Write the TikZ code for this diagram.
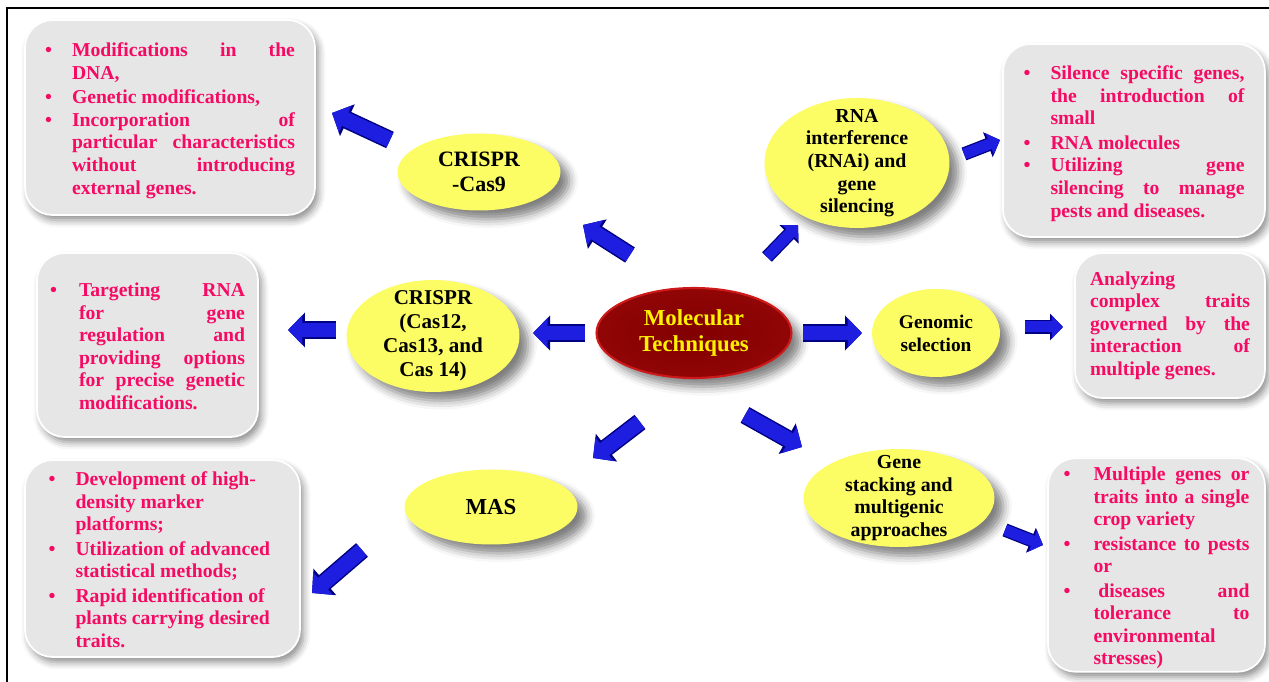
\documentclass[tikz,border=0pt]{standalone}
\usepackage{fontspec}
\setmainfont{Liberation Serif}
\usetikzlibrary{
  shapes.geometric,
  arrows.meta,
  shadows.blur}
\definecolor{boxgray}{RGB}{230,230,230}
\definecolor{notepink}{RGB}{245,10,100}
\definecolor{ellyellow}{RGB}{252,252,100}
\definecolor{molred}{RGB}{130,0,0}
\definecolor{molrim}{RGB}{205,25,25}
\definecolor{flowblue}{RGB}{30,30,225}
\definecolor{flowdark}{RGB}{0,0,130}
\tolerance=10000
\hbadness=10000
\hyphenpenalty=10000
\lineskip=0pt
\newcommand{\bulitem}[2][0.54cm]{\par\noindent\strut\makebox[#1][l]{\textbullet}\parbox[t]{\dimexpr\hsize-#1\relax}{\strut#2\strut}}

\begin{document}
\begin{tikzpicture}[
      x=0.02cm, y=-0.02cm,
      notebox/.style={
        rectangle,
        rounded corners=0.55cm,
        fill=boxgray,
        draw=white,
        line width=1pt,
        blur shadow={shadow xshift=2pt, shadow yshift=-3pt, shadow blur radius=4pt, shadow opacity=45},
        inner sep=0pt,
        align=justify,
        text=notepink,
        font=\fontsize{11.2}{12.85}\selectfont\bfseries,
      },
      technique/.style={
        ellipse,
        fill=ellyellow,
        inner sep=0pt,
        blur shadow={shadow xshift=5pt, shadow yshift=-5pt, shadow blur radius=5pt, shadow opacity=50},
      },
      technique-text/.style={
        align=center,
        inner sep=0pt,
        font=\fontsize{11.3}{12.9}\selectfont\bfseries,
      },
      core/.style={
        ellipse,
        inner color=molred,
        outer color=molred!80!molrim,
        draw=molrim,
        line width=1.2pt,
        inner sep=0pt,
        blur shadow={shadow xshift=5pt, shadow yshift=-5pt, shadow blur radius=5pt, shadow opacity=50},
      },
      flow/.style={
        line width=0.3cm,
        draw=flowblue,
        -{Triangle[width=0.58cm,length=0.29cm]},
        preaction={draw=flowdark, line width=0.36cm, -{Triangle[width=0.68cm,length=0.34cm]}},
      },
      small-flow/.style={
        line width=0.22cm,
        draw=flowblue,
        -{Triangle[width=0.44cm,length=0.22cm]},
        preaction={draw=flowdark, line width=0.27cm, -{Triangle[width=0.52cm,length=0.26cm]}},
      },
    ]
    \useasboundingbox (0,0) rectangle (1269,682);
    \draw[line width=0.9pt] (7,682) -- (7,8) -- (1269,8);

    \coordinate (molecular) at (694,333);
    \coordinate (crispr9) at (479,172);
    \coordinate (crispr12) at (433,336);
    \coordinate (rnai) at (857,163);
    \coordinate (genomic) at (936,333);
    \coordinate (mas) at (491,507);
    \coordinate (stacking) at (899,498);
    \coordinate (crispr9-note) at (170,117.5);
    \coordinate (crispr12-note) at (147.5,345);
    \coordinate (rnai-note) at (1134,140.5);
    \coordinate (genomic-note) at (1170,325.5);
    \coordinate (mas-note) at (162.5,558.5);
    \coordinate (stacking-note) at (1156.5,565);

    \node[core, minimum width=3.9cm, minimum height=1.8cm,
      label={[technique-text, text=yellow, font=\fontsize{13}{14.8}\selectfont\bfseries]center:Molecular\\Techniques}] (molecular-node) at (molecular) {};
    \node[technique, minimum width=3.26cm, minimum height=1.54cm,
      label={[technique-text, font=\fontsize{12.5}{14.2}\selectfont\bfseries]center:CRISPR\\-Cas9}] (crispr9-node) at (crispr9) {};
    \node[technique, minimum width=3.46cm, minimum height=2.24cm,
      label={[technique-text, font=\fontsize{12}{13.6}\selectfont\bfseries]center:CRISPR\\(Cas12,\\Cas13, and\\Cas 14)}] (crispr12-node) at (crispr12) {};
    \node[technique, minimum width=3.7cm, minimum height=2.6cm,
      label={[technique-text]center:RNA\\interference\\(RNAi) and\\gene\\silencing}] (rnai-node) at (rnai) {};
    \node[technique, minimum width=2.56cm, minimum height=1.76cm,
      label={[technique-text, font=\fontsize{11}{13}\selectfont\bfseries]center:Genomic\\selection}] (genomic-node) at (genomic) {};
    \node[technique, minimum width=3.46cm, minimum height=1.5cm,
      label={[technique-text, font=\fontsize{13}{14.8}\selectfont\bfseries]center:MAS}] (mas-node) at (mas) {};
    \node[technique, minimum width=3.82cm, minimum height=1.96cm,
      label={[technique-text]center:Gene\\stacking and\\multigenic\\approaches}] (stacking-node) at (stacking) {};

    \node[notebox, minimum width=5.8cm, minimum height=3.9cm, text width=5cm] (crispr9-note-node) at (crispr9-note)
      {\bulitem{Modifications in the\linebreak DNA,}
       \bulitem{Genetic modifications,}
       \bulitem{Incorporation of\linebreak particular characteristics\linebreak without introducing\linebreak external genes.}};
    \node[notebox, minimum width=4.42cm, minimum height=3.68cm, text width=3.9cm] (crispr12-note-node) at (crispr12-note)
      {\bulitem[0.58cm]{Targeting RNA\linebreak for gene\linebreak regulation and\linebreak providing options\linebreak for precise genetic\linebreak modifications.}};
    \node[notebox, minimum width=5.24cm, minimum height=3.86cm, text width=4.42cm] (rnai-note-node) at (rnai-note)
      {\bulitem{Silence specific genes,\linebreak the introduction of\linebreak small}
       \bulitem{RNA molecules}
       \bulitem{Utilizing gene\linebreak silencing to manage\linebreak pests and diseases.}};
    \node[notebox, minimum width=3.8cm, minimum height=2.9cm, text width=3.2cm] (genomic-note-node) at (genomic-note)
      {\noindent Analyzing\linebreak complex traits\linebreak governed by the\linebreak interaction of\linebreak multiple genes.};
    \node[notebox, minimum width=5.5cm, minimum height=3.94cm, text width=4.56cm] (mas-note-node) at (mas-note)
      {\bulitem{\raggedright Development of high-\\density marker\\platforms;}
       \bulitem{\raggedright Utilization of advanced\\statistical methods;}
       \bulitem{\raggedright Rapid identification of\\plants carrying desired\\traits.}};
    \node[notebox, minimum width=4.34cm, minimum height=4.2cm, text width=3.72cm] (stacking-note-node) at (stacking-note)
      {\bulitem[0.6cm]{Multiple genes or\linebreak traits into a single\linebreak crop variety}
       \bulitem[0.6cm]{resistance to pests\linebreak or}
       \bulitem[0.6cm]{\hspace*{0.25em}diseases and\linebreak tolerance to\linebreak environmental\linebreak stresses)}};

    \coordinate (mol-crispr9-tail) at (630,255);
    \coordinate (mol-crispr9-tip) at (583,225);
    \coordinate (crispr9-out-tail) at (390,140);
    \coordinate (crispr9-out-tip) at (332,113);
    \coordinate (mol-crispr12-tail) at (585,333);
    \coordinate (mol-crispr12-tip) at (533,333);
    \coordinate (crispr12-out-tail) at (336,330);
    \coordinate (crispr12-out-tip) at (288,330);
    \coordinate (mol-rnai-tail) at (767,257);
    \coordinate (mol-rnai-tip) at (798,225);
    \coordinate (rnai-out-tail) at (964,154);
    \coordinate (rnai-out-tip) at (1000,140);
    \coordinate (mol-genomic-tail) at (803,333);
    \coordinate (mol-genomic-tip) at (862,333);
    \coordinate (genomic-out-tail) at (1025,327);
    \coordinate (genomic-out-tip) at (1063,327);
    \coordinate (mol-mas-tail) at (640,422);
    \coordinate (mol-mas-tip) at (593,458);
    \coordinate (mas-out-tail) at (362,550);
    \coordinate (mas-out-tip) at (312,593);
    \coordinate (mol-stacking-tail) at (745,415);
    \coordinate (mol-stacking-tip) at (802,447);
    \coordinate (stacking-out-tail) at (1005,530);
    \coordinate (stacking-out-tip) at (1043,545);

    \draw[flow] (mol-crispr9-tail) -- (mol-crispr9-tip);
    \draw[flow] (crispr9-out-tail) -- (crispr9-out-tip);
    \draw[flow] (mol-crispr12-tail) -- (mol-crispr12-tip);
    \draw[flow] (crispr12-out-tail) -- (crispr12-out-tip);
    \draw[small-flow] (mol-rnai-tail) -- (mol-rnai-tip);
    \draw[small-flow] (rnai-out-tail) -- (rnai-out-tip);
    \draw[flow] (mol-genomic-tail) -- (mol-genomic-tip);
    \draw[small-flow] (genomic-out-tail) -- (genomic-out-tip);
    \draw[flow] (mol-mas-tail) -- (mol-mas-tip);
    \draw[flow] (mas-out-tail) -- (mas-out-tip);
    \draw[flow] (mol-stacking-tail) -- (mol-stacking-tip);
    \draw[small-flow] (stacking-out-tail) -- (stacking-out-tip);
  \end{tikzpicture}
\end{document}
